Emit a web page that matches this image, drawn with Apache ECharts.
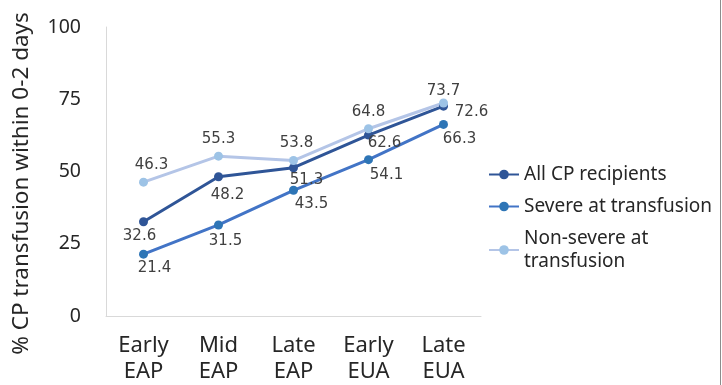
<!DOCTYPE html>
<html>
<head>
<meta charset="utf-8">
<script src="https://cdn.jsdelivr.net/npm/echarts@6/dist/echarts.min.js"></script>
<style>
  html, body { margin: 0; padding: 0; background: #ffffff; }
  #chart { width: 722px; height: 385px; }
</style>
</head>
<body>
<div id="chart"></div>
<script>
// Periods of the programme
const categories = ['Early\nEAP', 'Mid\nEAP', 'Late\nEAP', 'Early\nEUA', 'Late\nEUA'];

// % of CP transfused within 0-2 days, per period
const allCP = [32.6, 48.2, 51.3, 62.6, 72.6];
const severe = [21.4, 31.5, 43.5, 54.1, 66.3];
const nonSevere = [46.3, 55.3, 53.8, 64.8, 73.7];

const yTicks = [0, 25, 50, 75, 100];

// Value label placement (pixel offsets from each point)
const allCPLabelOffsets = [[-4, 14], [9, 18], [13, 12], [16, 8], [28, 6]];
const severeLabelOffsets = [[11, 14], [7, 16], [18, 14], [18, 15], [16, 15]];
const nonSevereLabelOffsets = [[8, -17], [0, -17], [3, -17], [0, -17], [0, -12]];

const labelFont = {
  fontFamily: 'DejaVu Sans',
  fontSize: 15,
  color: '#404040'
};

function withLabels(values, offsets) {
  return values.map((v, i) => ({
    value: v,
    label: { offset: offsets[i] }
  }));
}

function lineSeries(name, values, offsets, lineColor, markerColor) {
  return {
    name: name,
    type: 'line',
    data: withLabels(values, offsets),
    symbol: 'circle',
    symbolSize: 9,
    lineStyle: { width: 3, color: lineColor },
    itemStyle: { color: markerColor },
    label: Object.assign({
      show: true,
      position: 'inside',
      formatter: p => p.value.toFixed(1)
    }, labelFont),
    emphasis: { disabled: true },
    animation: false
  };
}

const chart = echarts.init(document.getElementById('chart'));
chart.setOption({
  backgroundColor: '#ffffff',
  grid: { left: 106, right: 241, top: 27, bottom: 65 },
  xAxis: {
    type: 'category',
    data: categories,
    boundaryGap: true,
    axisLine: { lineStyle: { color: '#d9d9d9', width: 1 } },
    axisTick: { show: false },
    axisLabel: {
      interval: 0,
      margin: 17,
      fontFamily: 'Noto Sans',
      fontSize: 22,
      lineHeight: 26,
      color: '#262626'
    }
  },
  yAxis: {
    type: 'value',
    min: yTicks[0],
    max: yTicks[yTicks.length - 1],
    interval: 25,
    name: '% CP transfusion within 0-2 days',
    nameLocation: 'middle',
    nameGap: 73,
    nameRotate: 90,
    nameTextStyle: {
      fontFamily: 'Noto Sans',
      fontSize: 22.5,
      color: '#262626',
      padding: [0, 24, 0, 0]
    },
    axisLine: { show: true, lineStyle: { color: '#d9d9d9', width: 1 } },
    axisTick: { show: false },
    splitLine: { show: false },
    axisLabel: {
      margin: 25,
      fontFamily: 'Noto Sans',
      fontSize: 19.5,
      color: '#262626'
    }
  },
  legend: {
    orient: 'vertical',
    left: 483,
    top: 158,
    itemWidth: 30,
    itemHeight: 12,
    itemGap: 9,
    formatter: name => name === 'Non-severe at transfusion' ? 'Non-severe at\ntransfusion' : name,
    textStyle: {
      fontFamily: 'Noto Sans',
      fontSize: 19,
      lineHeight: 23,
      color: '#262626'
    },
    data: ['All CP recipients', 'Severe at transfusion', 'Non-severe at transfusion']
  },
  graphic: [{
    type: 'line',
    shape: { x1: 720.5, y1: 0, x2: 720.5, y2: 385 },
    style: { stroke: '#8c8c8c', lineWidth: 1 }
  }],
  series: [
    lineSeries('All CP recipients', allCP, allCPLabelOffsets, '#2f5597', '#2f5597'),
    lineSeries('Severe at transfusion', severe, severeLabelOffsets, '#4274c6', '#2e75b6'),
    lineSeries('Non-severe at transfusion', nonSevere, nonSevereLabelOffsets, '#b4c5e7', '#9dc3e6')
  ]
});
</script>
</body>
</html>
